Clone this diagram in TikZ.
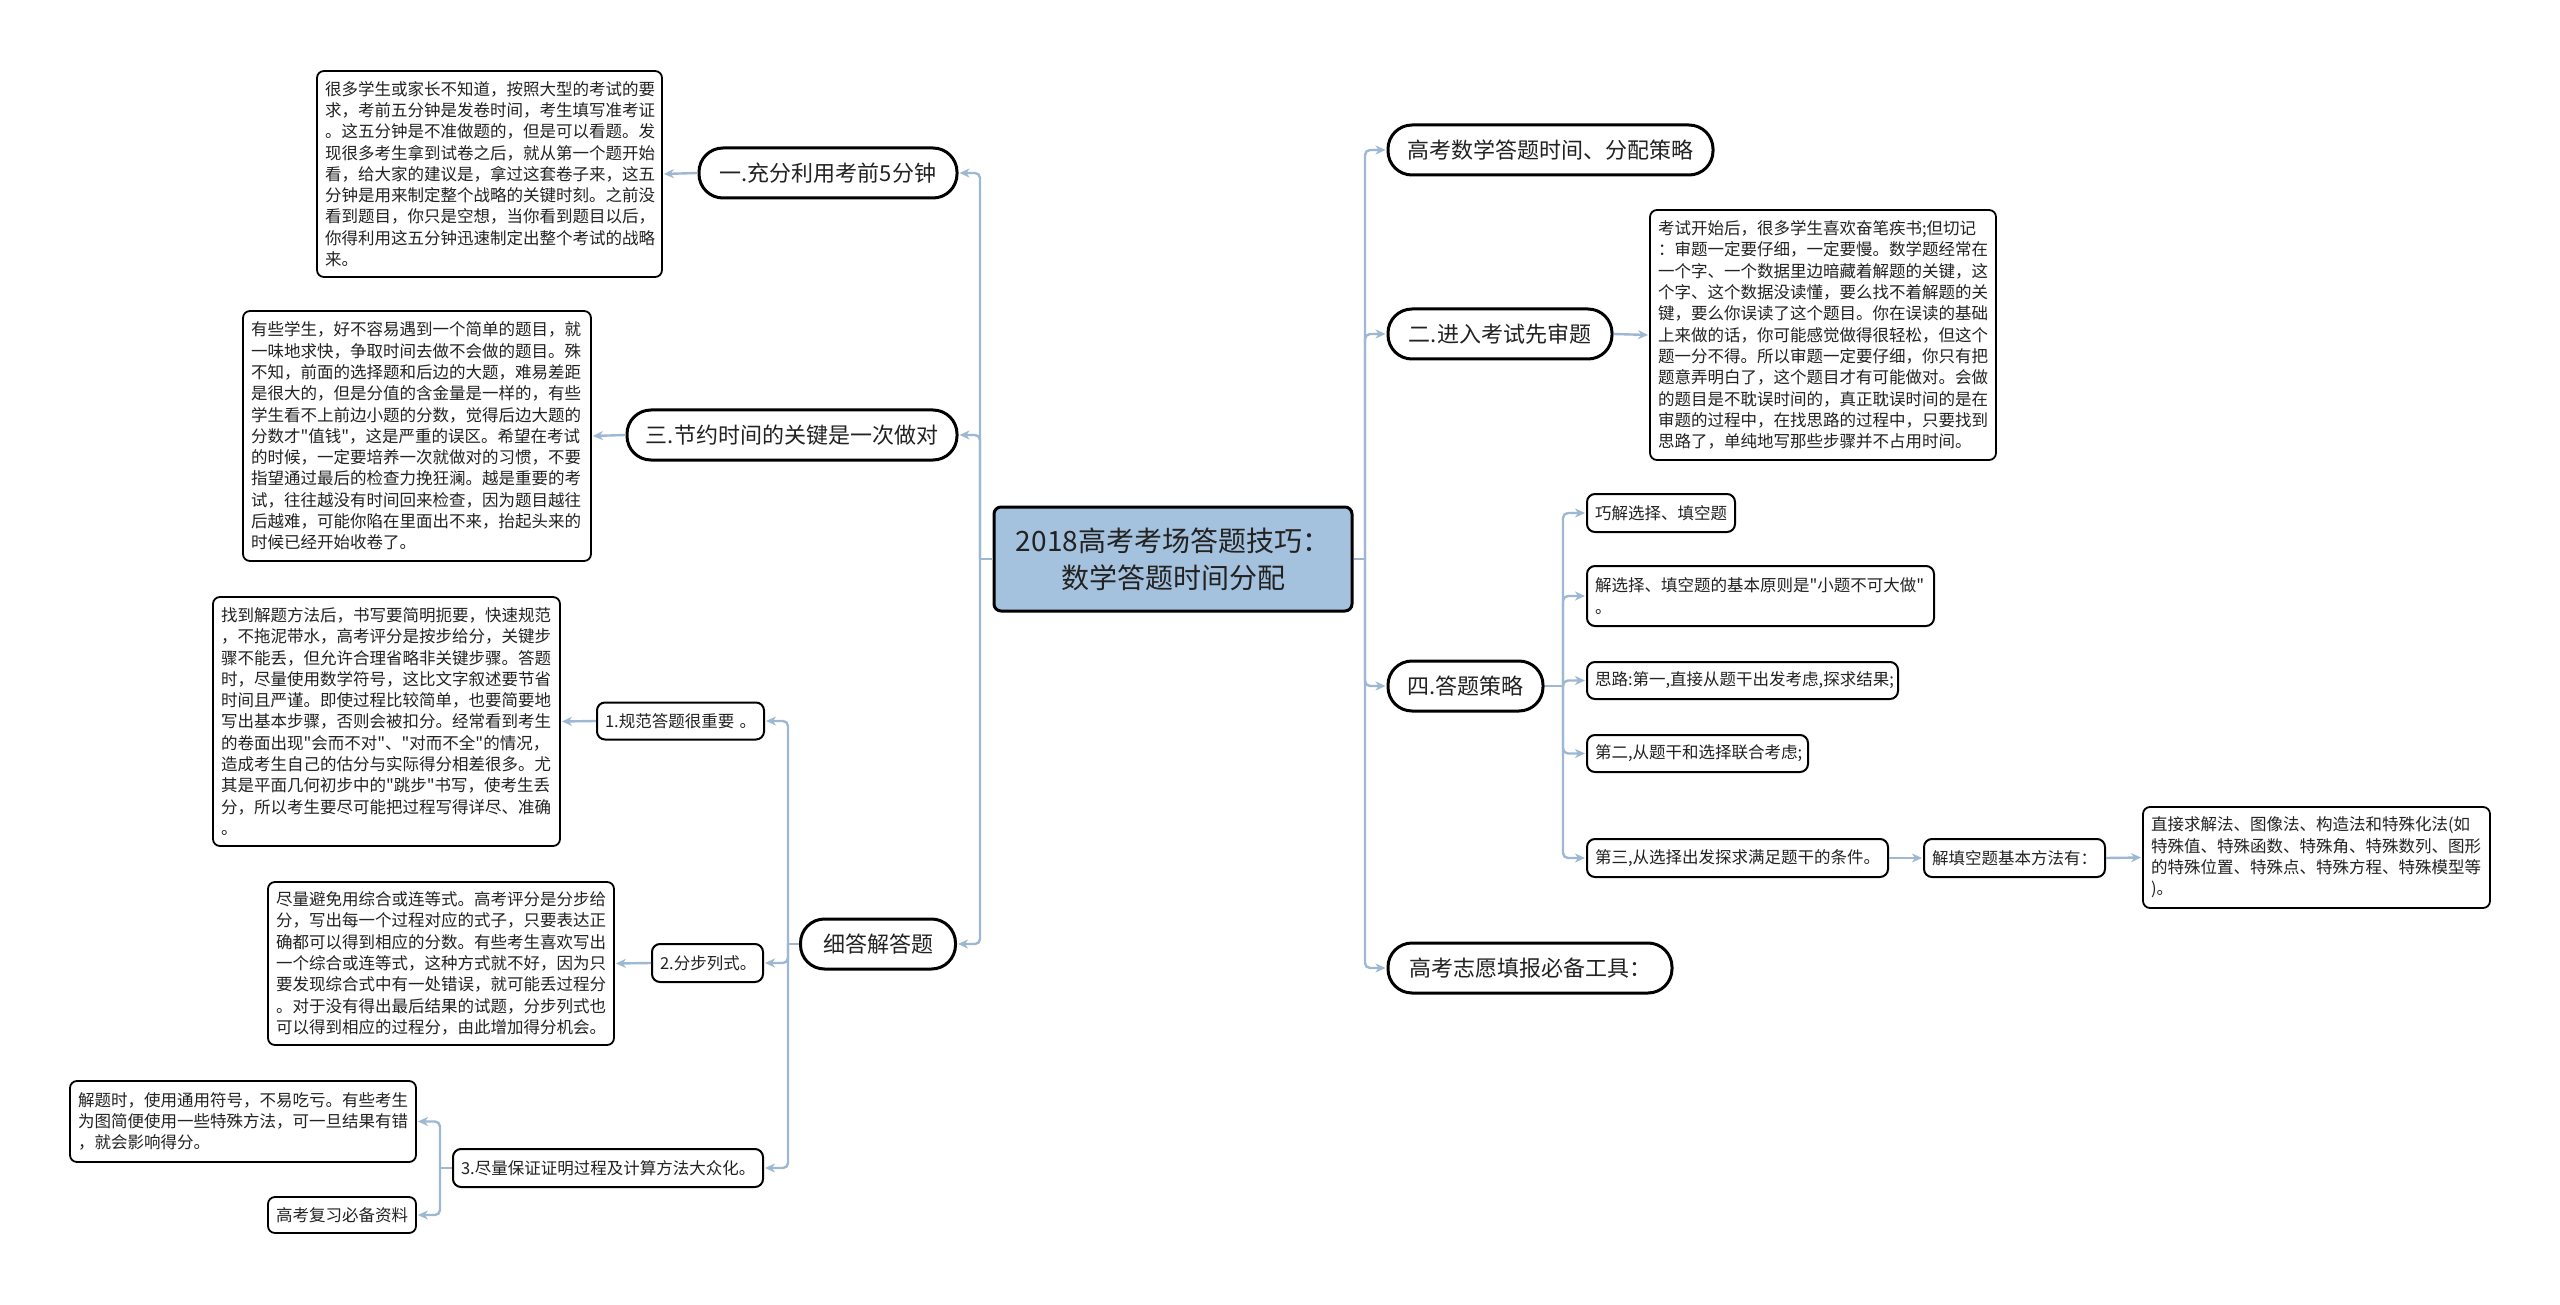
\documentclass[tikz,border=0pt]{standalone}
\usepackage{fontspec}
\newfontfamily\cjk{Noto Sans CJK SC}
\usetikzlibrary{arrows.meta}
\definecolor{connc}{HTML}{9DB8D0}
\definecolor{cfill}{HTML}{A4C1DD}
\definecolor{ink}{HTML}{222222}
\tikzset{
  conn/.style={draw=connc, line width=2.4pt, rounded corners=5pt},
  arr/.style={conn, -{Stealth[length=10pt,width=9pt,inset=3pt]}, shorten >=1pt},
  pill/.style={draw=black, line width=3pt, rounded corners=24pt, fill=white, align=center, text=ink, font=\cjk\fontsize{22}{27}\selectfont, inner sep=0pt, minimum height=50pt},
  sbox/.style={draw=black, line width=2pt, rounded corners=8pt, fill=white, align=left, text=ink, font=\cjk\fontsize{16.5}{21.3}\selectfont, inner xsep=8pt, inner ysep=0pt},
  tbox/.style={sbox, line width=1.8pt, rounded corners=7pt},
}
\begin{document}
\begin{tikzpicture}[x=1pt,y=-1pt]
\useasboundingbox (0,0) rectangle (2560,1305);
% center
\node[draw=black, line width=3pt, rounded corners=7pt, fill=cfill, minimum width=358pt, minimum height=104pt, align=center, text=ink, font=\cjk\fontsize{28}{37}\selectfont, inner sep=0pt] (c) at (1173,559) {2018高考考场答题技巧：\\数学答题时间分配};

% left level 1
\node[pill, minimum width=258pt] (n1) at (828,173) {一.充分利用考前5分钟};
\node[pill, minimum width=330pt] (n3) at (792,435) {三.节约时间的关键是一次做对};
\node[pill, minimum width=155pt] (xd) at (878,944) {细答解答题};

\node[tbox, text width=329pt, minimum height=206pt] (t1) at (489.5,174) {很多学生或家长不知道，按照大型的考试的要\\求，考前五分钟是发卷时间，考生填写准考证\\。这五分钟是不准做题的，但是可以看题。发\\现很多考生拿到试卷之后，就从第一个题开始\\看，给大家的建议是，拿过这套卷子来，这五\\分钟是用来制定整个战略的关键时刻。之前没\\看到题目，你只是空想，当你看到题目以后，\\你得利用这五分钟迅速制定出整个考试的战略\\来。};
\node[tbox, text width=332pt, minimum height=250pt] (t3) at (417,436) {有些学生，好不容易遇到一个简单的题目，就\\一味地求快，争取时间去做不会做的题目。殊\\不知，前面的选择题和后边的大题，难易差距\\是很大的，但是分值的含金量是一样的，有些\\学生看不上前边小题的分数，觉得后边大题的\\分数才"值钱"，这是严重的误区。希望在考试\\的时候，一定要培养一次就做对的习惯，不要\\指望通过最后的检查力挽狂澜。越是重要的考\\试，往往越没有时间回来检查，因为题目越往\\后越难，可能你陷在里面出不来，抬起头来的\\时候已经开始收卷了。};

\node[sbox, text width=151pt, minimum height=37pt] (s1) at (680.5,721) {\mbox{1.规范答题很重要 。}};
\node[sbox, text width=95pt, minimum height=38pt] (s2) at (707.5,963) {\mbox{2.分步列式。}};
\node[sbox, text width=294pt, minimum height=38pt] (s3) at (608,1168) {\mbox{3.尽量保证证明过程及计算方法大众化。}};

\node[tbox, text width=331pt, minimum height=249pt] (ts1) at (386.5,721.5) {找到解题方法后，书写要简明扼要，快速规范\\，不拖泥带水，高考评分是按步给分，关键步\\骤不能丢，但允许合理省略非关键步骤。答题\\时，尽量使用数学符号，这比文字叙述要节省\\时间且严谨。即使过程比较简单，也要简要地\\写出基本步骤，否则会被扣分。经常看到考生\\的卷面出现"会而不对"、"对而不全"的情况，\\造成考生自己的估分与实际得分相差很多。尤\\其是平面几何初步中的"跳步"书写，使考生丢\\分，所以考生要尽可能把过程写得详尽、准确\\。};
\node[tbox, text width=330pt, minimum height=163pt] (ts2) at (441,963.5) {尽量避免用综合或连等式。高考评分是分步给\\分，写出每一个过程对应的式子，只要表达正\\确都可以得到相应的分数。有些考生喜欢写出\\一个综合或连等式，这种方式就不好，因为只\\要发现综合式中有一处错误，就可能丢过程分\\。对于没有得出最后结果的试题，分步列式也\\可以得到相应的过程分，由此增加得分机会。};
\node[tbox, text width=330pt, minimum height=81pt] (ts3a) at (243,1121.5) {解题时，使用通用符号，不易吃亏。有些考生\\为图简便使用一些特殊方法，可一旦结果有错\\，就会影响得分。};
\node[tbox, text width=132pt, minimum height=36pt] (ts3b) at (342,1215) {\mbox{高考复习必备资料}};

% right level 1
\node[pill, minimum width=325pt] (r1) at (1550.5,150) {高考数学答题时间、分配策略};
\node[pill, minimum width=224pt] (r2) at (1500,334) {二.进入考试先审题};
\node[pill, minimum width=155pt] (r4) at (1465.5,686) {四.答题策略};
\node[pill, minimum width=284pt] (r5) at (1530,968) {高考志愿填报必备工具：};

\node[tbox, text width=330pt, minimum height=250pt] (tr2) at (1823,335) {考试开始后，很多学生喜欢奋笔疾书;但切记\\：审题一定要仔细，一定要慢。数学题经常在\\一个字、一个数据里边暗藏着解题的关键，这\\个字、这个数据没读懂，要么找不着解题的关\\键，要么你误读了这个题目。你在误读的基础\\上来做的话，你可能感觉做得很轻松，但这个\\题一分不得。所以审题一定要仔细，你只有把\\题意弄明白了，这个题目才有可能做对。会做\\的题目是不耽误时间的，真正耽误时间的是在\\审题的过程中，在找思路的过程中，只要找到\\思路了，单纯地写那些步骤并不占用时间。};

\node[sbox, text width=132pt, minimum height=38pt] (q1) at (1661,513) {\mbox{巧解选择、填空题}};
\node[sbox, text width=331pt, minimum height=60pt] (q2) at (1760.5,596) {解选择、填空题的基本原则是"小题不可大做"\\。};
\node[sbox, text width=295pt, minimum height=37pt] (q3) at (1742.5,680.5) {\mbox{思路:第一,直接从题干出发考虑,探求结果;}};
\node[sbox, text width=205pt, minimum height=37pt] (q4) at (1697.5,753.5) {\mbox{第二,从题干和选择联合考虑;}};
\node[sbox, text width=285pt, minimum height=38pt] (q5) at (1737.5,858) {\mbox{第三,从选择出发探求满足题干的条件。}};
\node[sbox, text width=165pt, minimum height=38pt] (q6) at (2014.5,858) {\mbox{解填空题基本方法有：}};
\node[tbox, text width=331pt, minimum height=101pt] (q7) at (2316.5,857.5) {直接求解法、图像法、构造法和特殊化法(如\\特殊值、特殊函数、特殊角、特殊数列、图形\\的特殊位置、特殊点、特殊方程、特殊模型等\\)。};

% connectors left
\coordinate (lt) at (980,559);
\draw[conn] (c.west) -- (lt);
\draw[arr] (lt) |- (n1.east);
\draw[arr] (lt) |- (n3.east);
\draw[arr] (lt) |- (xd.east);
\draw[arr] (n1.west) -- (t1.east);
\draw[arr] (n3.west) -- (t3.east);
\coordinate (dt) at (788,944);
\draw[conn] (xd.west) -- (dt);
\draw[arr] (dt) |- (s1.east);
\draw[arr] (dt) |- (s2.east);
\draw[arr] (dt) |- (s3.east);
\draw[arr] (s1.west) -- (ts1.east);
\draw[arr] (s2.west) -- (ts2.east);
\coordinate (et) at (440,1168);
\draw[conn] (s3.west) -- (et);
\draw[arr] (et) |- (ts3a.east);
\draw[arr] (et) |- (ts3b.east);

% connectors right
\coordinate (rt) at (1365,559);
\draw[conn] (c.east) -- (rt);
\draw[arr] (rt) |- (r1.west);
\draw[arr] (rt) |- (r2.west);
\draw[arr] (rt) |- (r4.west);
\draw[arr] (rt) |- (r5.west);
\draw[arr] (r2.east) -- (tr2.west);
\coordinate (qt) at (1563,686);
\draw[conn] (r4.east) -- (qt);
\draw[arr] (qt) |- (q1.west);
\draw[arr] (qt) |- (q2.west);
\draw[arr] (qt) |- (q3.west);
\draw[arr] (qt) |- (q4.west);
\draw[arr] (qt) |- (q5.west);
\draw[arr] (q5.east) -- (q6.west);
\draw[arr] (q6.east) -- (q7.west);
\end{tikzpicture}
\end{document}
